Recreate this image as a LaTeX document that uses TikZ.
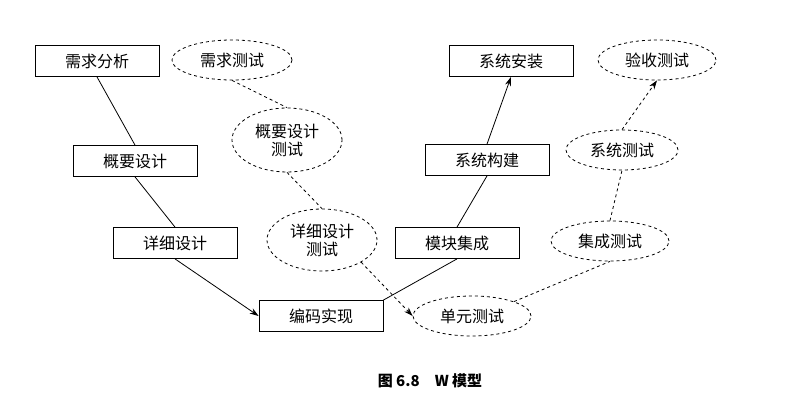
\documentclass[tikz,border=0pt]{standalone}
\usepackage{fontspec}
\setmainfont{Noto Sans CJK SC}
\usetikzlibrary{shapes.geometric,arrows.meta}
\begin{document}
\begin{tikzpicture}[x=1pt,y=-1pt,
  box/.style={draw,thick,minimum width=124pt,minimum height=31pt,font=\fontsize{16}{18}\selectfont,inner sep=1pt},
  ell/.style={draw,dashed,thick,ellipse,inner sep=1pt,font=\fontsize{16}{18}\selectfont,align=center},
  ln/.style={thick},
  arr/.style={thick,-{Stealth[length=9pt,width=6pt]}},
  dln/.style={thick,dashed},
  darr/.style={thick,dashed,-{Stealth[length=9pt,width=6pt]}}]
\useasboundingbox (0,0) rectangle (797,419);
\node[box] (a1) at (97,61) {需求分析};
\node[box] (a2) at (135,161) {概要设计};
\node[box] (a3) at (175,243) {详细设计};
\node[box] (a4) at (321,316) {编码实现};
\node[box] (a5) at (457,243) {模块集成};
\node[box] (a6) at (487,160) {系统构建};
\node[box] (a7) at (511,61) {系统安装};
\node[ell,minimum width=120pt,minimum height=40pt] (e1) at (232,60) {需求测试};
\node[ell,minimum width=110pt,minimum height=64pt] (e2) at (287,140) {概要设计\\测试};
\node[ell,minimum width=110pt,minimum height=62pt] (e3) at (322,240) {详细设计\\测试};
\node[ell,minimum width=118pt,minimum height=40pt] (e4) at (472,316) {单元测试};
\node[ell,minimum width=118pt,minimum height=40pt] (e5) at (610,241) {集成测试};
\node[ell,minimum width=112pt,minimum height=40pt] (e6) at (622,150) {系统测试};
\node[ell,minimum width=118pt,minimum height=40pt] (e7) at (657,60) {验收测试};
\draw[ln] (a1.south) -- (a2.north);
\draw[ln] (a2.south) -- (a3.north);
\draw[arr] (a3.south) -- (a4.west);
\draw[ln] (a4.north east) -- (a5.south);
\draw[ln] (a5.north) -- (a6.south);
\draw[arr] (a6.north) -- (a7.south);
\draw[dln] (e1.south) -- (e2.north);
\draw[dln] (e2.south) -- (e3.north);
\draw[darr] (e3.south east) -- (e4.west);
\draw[dln] (e4.north east) -- (e5.south);
\draw[dln] (e5.north) -- (e6.south);
\draw[darr] (e6.north) -- (e7.south);
\node[font=\bfseries\fontsize{15}{17}\selectfont] (cap) at (430,381) {图 6.8\quad W 模型};
\end{tikzpicture}
\end{document}
